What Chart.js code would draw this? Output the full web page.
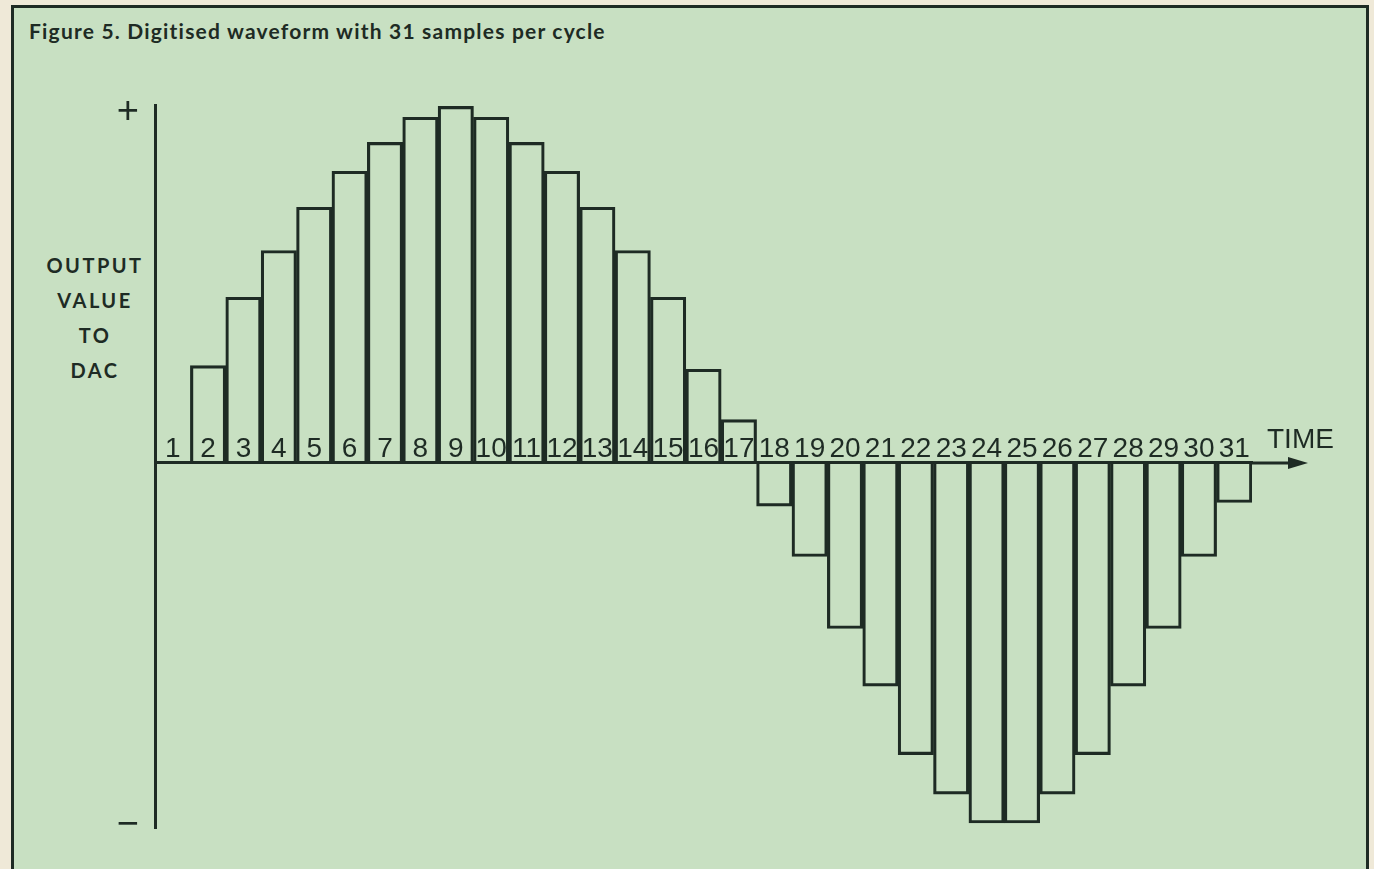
<!DOCTYPE html>
<html>
<head>
<meta charset="utf-8">
<script src="https://cdn.jsdelivr.net/npm/chart.js@4"></script>
<style>
    html, body { margin: 0; padding: 0; }
    body { width: 1374px; height: 869px; background: #efe9d8; position: relative; overflow: hidden; }
    .frame {
        position: absolute; left: 11px; top: 5px; width: 1352px; height: 870px;
        background: #c8e0c2;
        border-left: 3px solid #1e2b24; border-top: 3px solid #1e2b24; border-right: 3px solid #1e2b24;
    }
    .fig-title {
        position: absolute; left: 29px; top: 18px;
        font: bold 21px Lato, sans-serif; color: #1e2b24; letter-spacing: 1.2px;
    }
    .y-title {
        position: absolute; left: 35px; top: 248px; width: 120px;
        text-align: center; font: bold 20px Lato, sans-serif; color: #1e2b24;
        letter-spacing: 2.5px; line-height: 35px;
    }
    .chart-box { position: absolute; left: 0; top: 0; width: 1374px; height: 869px; }
</style>
</head>
<body>
<div class="frame"></div>
<div class="fig-title">Figure 5. Digitised waveform with 31 samples per cycle</div>
<div class="y-title">OUTPUT<br>VALUE<br>TO<br>DAC</div>
<div class="chart-box"><canvas id="waveChart"></canvas></div>
<script>
// sample numbers along the time axis
const sampleLabels = ['1', '2', '3', '4', '5', '6', '7', '8', '9', '10', '11', '12', '13', '14', '15', '16',
    '17', '18', '19', '20', '21', '22', '23', '24', '25', '26', '27', '28', '29', '30', '31'];
// output value sent to the DAC for each sample
const outputValues = [0, 27, 46, 59, 71, 81, 89, 96, 99, 96, 89, 81, 71, 59, 46, 26,
    12, -12, -26, -46, -62, -81, -92, -100, -100, -92, -81, -62, -46, -26, -11];
// y axis end markers
const yTickValues = [-100.6, 97.2];
const yTickLabels = ['\u2212', '+'];
const yMin = -101.4;
const yMax = 99.4;

const ink = '#1e2b24';

// draws the arrow on the time axis and the TIME label
const timeArrow = {
    id: 'timeArrow',
    afterDraw(chart) {
        const { ctx, chartArea } = chart;
        const y0 = chart.scales.y.getPixelForValue(0);
        const tip = chartArea.right + 56;
        ctx.save();
        ctx.strokeStyle = ink;
        ctx.fillStyle = ink;
        ctx.lineWidth = 3;
        ctx.beginPath();
        ctx.moveTo(chartArea.right, y0);
        ctx.lineTo(tip - 14, y0);
        ctx.stroke();
        ctx.beginPath();
        ctx.moveTo(tip, y0);
        ctx.lineTo(tip - 20, y0 - 6);
        ctx.lineTo(tip - 20, y0 + 6);
        ctx.closePath();
        ctx.fill();
        ctx.font = '28px "Liberation Sans", sans-serif';
        ctx.textBaseline = 'middle';
        ctx.textAlign = 'left';
        ctx.fillText('TIME', chartArea.right + 15, y0 - 23);
        ctx.restore();
    }
};

new Chart(document.getElementById('waveChart'), {
    type: 'bar',
    data: {
        labels: sampleLabels,
        datasets: [{
            data: outputValues,
            backgroundColor: 'rgba(0,0,0,0)',
            borderColor: ink,
            borderWidth: 2.5,
            barPercentage: 1,
            categoryPercentage: 1
        }]
    },
    options: {
        responsive: true,
        maintainAspectRatio: false,
        animation: false,
        layout: { padding: { left: 0, top: 105, right: 122, bottom: 41 } },
        plugins: {
            legend: { display: false },
            tooltip: { enabled: false }
        },
        scales: {
            x: {
                type: 'category',
                position: { y: 0 },
                grid: { display: false },
                border: { display: true, color: ink, width: 3 },
                afterFit: (s) => { s.height = 0; },
                ticks: {
                    autoSkip: false,
                    maxRotation: 0,
                    minRotation: 0,
                    padding: -38,
                    color: ink,
                    font: { family: '"Liberation Sans", sans-serif', size: 28 }
                }
            },
            y: {
                min: yMin,
                max: yMax,
                grid: { display: false },
                border: { display: true, color: ink, width: 3 },
                afterFit: (s) => { s.width = 155; },
                afterBuildTicks: (s) => { s.ticks = yTickValues.map(v => ({ value: v })); },
                ticks: {
                    padding: 8,
                    color: ink,
                    font: { family: '"Liberation Sans", sans-serif', size: 38 },
                    callback: (v) => yTickLabels[yTickValues.indexOf(v)]
                }
            }
        }
    },
    plugins: [timeArrow]
});
</script>
</body>
</html>
